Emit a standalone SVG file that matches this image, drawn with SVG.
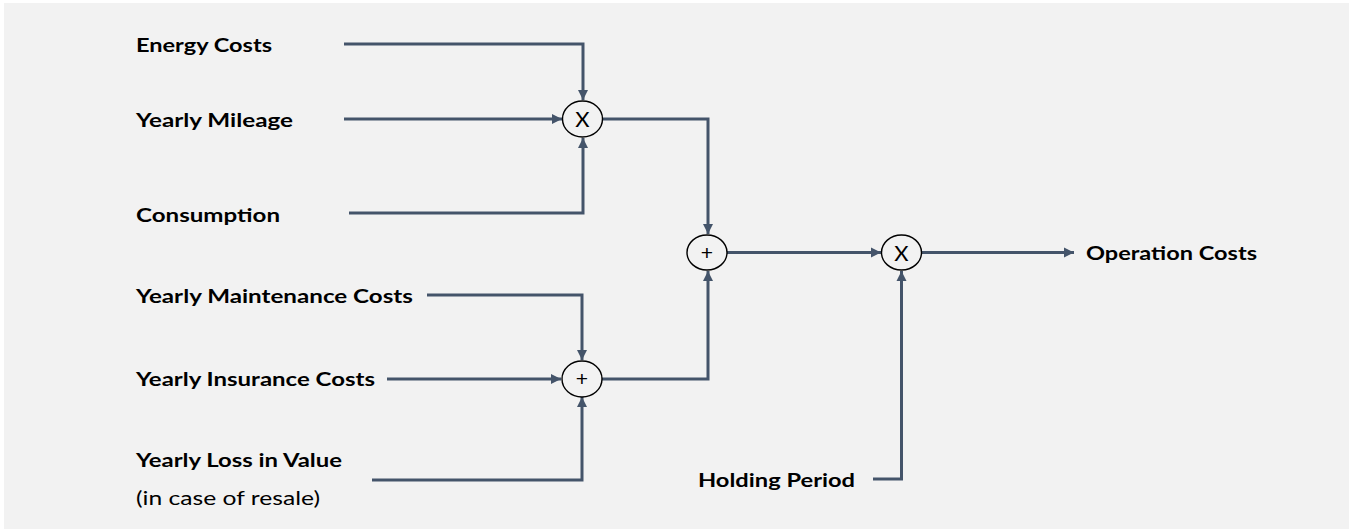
<svg xmlns="http://www.w3.org/2000/svg" width="1359" height="529" viewBox="0 0 1359 529">
<style>
.lbl{font-family:Lato,"Open Sans","Liberation Sans",sans-serif;font-weight:bold;font-size:19.5px;fill:#000}
.sub{font-family:Lato,"Open Sans","Liberation Sans",sans-serif;font-weight:normal;font-size:19.5px;fill:#000}
.op{fill:#f2f2f2;stroke:#000;stroke-width:1.4}
.opt{font-family:Lato,"Open Sans","Liberation Sans",sans-serif;font-size:22px;fill:#000;text-anchor:middle}
.opp{font-family:"Liberation Sans",sans-serif;font-size:21px;fill:#000;text-anchor:middle}
.con{fill:none;stroke:#44546a;stroke-width:3;marker-end:url(#arr)}
</style>
<defs>
<marker id="arr" markerUnits="userSpaceOnUse" markerWidth="12" markerHeight="12" viewBox="0 0 12 12" refX="11" refY="6" orient="auto">
<path d="M1,1 L11,6 L1,11 Z" fill="#44546a"/>
</marker>
</defs>
<rect x="4" y="3" width="1345" height="526" fill="#f2f2f2"/>
<g id="connectors">
<path class="con" d="M344,44 H583 V100"/>
<path class="con" d="M344,119 H562"/>
<path class="con" d="M349,213 H583 V138"/>
<path class="con" d="M602,119 H708 V234"/>
<path class="con" d="M427,295 H582 V360"/>
<path class="con" d="M387,379 H561"/>
<path class="con" d="M372,480 H582 V397"/>
<path class="con" d="M602,379 H708 V271"/>
<path class="con" d="M727,252.5 H881"/>
<path class="con" d="M873,479 H901.5 V271"/>
<path class="con" d="M921,252.5 H1074"/>
</g>
<g id="energy-costs"><text class="lbl" x="136" y="52" textLength="136" lengthAdjust="spacingAndGlyphs">Energy Costs</text></g>
<g id="yearly-mileage"><text class="lbl" x="136" y="127" textLength="157" lengthAdjust="spacingAndGlyphs">Yearly Mileage</text></g>
<g id="consumption"><text class="lbl" x="136" y="221.5" textLength="144" lengthAdjust="spacingAndGlyphs">Consumption</text></g>
<g id="yearly-maintenance-costs"><text class="lbl" x="136" y="303" textLength="277" lengthAdjust="spacingAndGlyphs">Yearly Maintenance Costs</text></g>
<g id="yearly-insurance-costs"><text class="lbl" x="136" y="386" textLength="239" lengthAdjust="spacingAndGlyphs">Yearly Insurance Costs</text></g>
<g id="yearly-loss-in-value">
<text class="lbl" x="136" y="466.5" textLength="206" lengthAdjust="spacingAndGlyphs">Yearly Loss in Value</text>
<text class="sub" x="136" y="504.5" textLength="184" lengthAdjust="spacingAndGlyphs">(in case of resale)</text>
</g>
<g id="holding-period"><text class="lbl" x="698" y="486.5" textLength="157" lengthAdjust="spacingAndGlyphs">Holding Period</text></g>
<g id="operation-costs"><text class="lbl" x="1086" y="260" textLength="171" lengthAdjust="spacingAndGlyphs">Operation Costs</text></g>
<g id="multiply-1"><ellipse class="op" cx="582.5" cy="119" rx="20" ry="18"/><text class="opt" x="582.5" y="127">X</text></g>
<g id="sum-1"><ellipse class="op" cx="707" cy="252.5" rx="20" ry="17.5"/><text class="opp" x="707" y="259.5">+</text></g>
<g id="multiply-2"><ellipse class="op" cx="901.5" cy="252.5" rx="20" ry="17.5"/><text class="opt" x="901.5" y="260.5">X</text></g>
<g id="sum-2"><ellipse class="op" cx="582" cy="379" rx="20" ry="18"/><text class="opp" x="582" y="386">+</text></g>
</svg>
